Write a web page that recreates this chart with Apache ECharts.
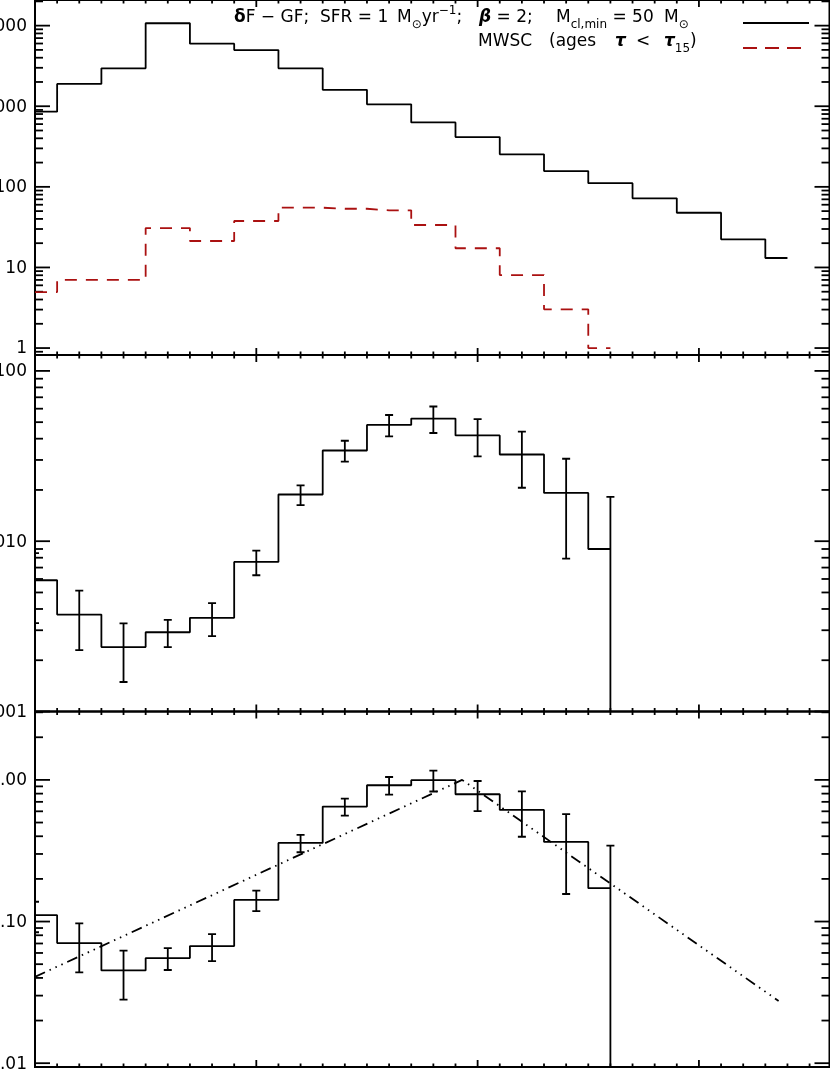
<!DOCTYPE html>
<html>
<head>
<meta charset="utf-8">
<script src="https://cdn.jsdelivr.net/npm/echarts@6/dist/echarts.min.js"></script>
<style>
  html, body { margin: 0; padding: 0; background: #fff; }
  #chart { width: 830px; height: 1069px; }
</style>
</head>
<body>
<div id="chart"></div>
<script>
// bin centres (log age), shared by all three panels
const BIN_X = [6.0, 6.2, 6.4, 6.6, 6.8, 7.0, 7.2, 7.4, 7.6, 7.8, 8.0, 8.2, 8.4, 8.6, 8.8, 9.0, 9.2, 9.4];

// top panel: model counts and MWSC counts
const MODEL_N = [855, 1890, 2950, 10700, 5970, 4980, 2950, 1600, 1056, 630, 415, 253, 157, 111, 72, 47.7, 22.3, 13.1];
const MWSC_N = [4.95, 7.0, 7.0, 30.8, 21.3, 37.7, 55.1, 53.5, 51.1, 33.6, 17.3, 8.05, 3.02, 1.0];

// middle panel: ratio and its error
const RATIO_V = [0.0059, 0.00371, 0.00239, 0.00292, 0.00355, 0.00756, 0.0188, 0.0341, 0.0482, 0.0525, 0.0418, 0.0323, 0.0192, 0.0090];
const RATIO_ERR = [0.0026, 0.00142, 0.0009, 0.00053, 0.00078, 0.00125, 0.0025, 0.0048, 0.0069, 0.0093, 0.0103, 0.0117, 0.0113, 0.0092];

// bottom panel: normalised ratio, error, and the broken power-law fit
const NORM_V = [0.111, 0.0705, 0.0452, 0.0552, 0.0671, 0.142, 0.359, 0.648, 0.917, 0.995, 0.792, 0.614, 0.365, 0.172];
const NORM_ERR = [0.027, 0.0267, 0.0171, 0.0097, 0.0145, 0.0235, 0.0505, 0.0885, 0.131, 0.167, 0.19, 0.217, 0.2085, 0.171];
const FIT_X = [6.0, 7.93, 9.36];
const FIT_Y = [0.0407, 1.0, 0.0275];

// axis ranges
const X_MIN = 6.0, X_MAX = 9.59;
const Y_RANGES = [[0.82, 20800], [0.001, 0.124], [0.0094, 3.04]];
const Y_FMT = [v => String(Math.round(v)), v => v.toFixed(3), v => v.toFixed(2)];

const FONT = 'DejaVu Sans';
const RED = '#aa1111';

function pairs(xs, ys) {
    return ys.map((y, i) => [xs[i], y]);
}

function tickData(yMin, yMax) {
    const out = [];
    for (let i = 60; i <= 95; i++) {
        out.push([0, i / 10, i % 10 === 0 ? 1 : 0]);
    }
    for (let k = Math.floor(Math.log10(yMin)); k <= Math.ceil(Math.log10(yMax)); k++) {
        for (let m = 1; m <= 9; m++) {
            const v = m * Math.pow(10, k);
            if (v >= yMin * 0.9999 && v <= yMax * 1.0001) out.push([1, v, m === 1 ? 1 : 0]);
        }
    }
    return out;
}

function tickSeries(idx) {
    const [yMin, yMax] = Y_RANGES[idx];
    return {
        type: 'custom',
        xAxisIndex: idx,
        yAxisIndex: idx,
        silent: true,
        data: tickData(yMin, yMax),
        renderItem(params, api) {
            const kind = api.value(0), v = api.value(1), major = api.value(2);
            const st = { stroke: '#000', lineWidth: 1.8 };
            if (kind === 1) {
                const a = api.coord([X_MIN, v]);
                const b = api.coord([X_MAX, v]);
                const len = major ? 15 : 8;
                const kids = [
                    { type: 'line', shape: { x1: a[0], y1: a[1], x2: a[0] + len, y2: a[1] }, style: st },
                    { type: 'line', shape: { x1: b[0] - len, y1: b[1], x2: b[0], y2: b[1] }, style: st }
                ];
                if (major) {
                    kids.push({
                        type: 'text', x: a[0] - 8, y: a[1] + 1,
                        style: { text: Y_FMT[idx](v), align: 'right', verticalAlign: 'middle', fontSize: 17, fontFamily: FONT, fill: '#000' }
                    });
                }
                return { type: 'group', children: kids };
            }
            const bot = api.coord([v, yMin]);
            const top = api.coord([v, yMax]);
            const len = major ? 7 : 3.5;
            return {
                type: 'group',
                children: [
                    { type: 'line', shape: { x1: bot[0], y1: bot[1], x2: bot[0], y2: bot[1] - len }, style: st },
                    { type: 'line', shape: { x1: top[0], y1: top[1], x2: top[0], y2: top[1] + len }, style: st }
                ]
            };
        }
    };
}

function errorSeries(idx, vals, errs) {
    const yMin = Y_RANGES[idx][0];
    return {
        type: 'custom',
        xAxisIndex: idx,
        yAxisIndex: idx,
        silent: true,
        clip: true,
        data: vals.map((v, i) => [BIN_X[i], v, errs[i]]),
        renderItem(params, api) {
            const x = api.value(0), v = api.value(1), e = api.value(2);
            const hi = api.coord([x, v + e]);
            const lo = api.coord([x, Math.max(v - e, yMin)]);
            const st = { stroke: '#000', lineWidth: 1.8 };
            const kids = [
                { type: 'line', shape: { x1: hi[0], y1: hi[1], x2: lo[0], y2: lo[1] }, style: st },
                { type: 'line', shape: { x1: hi[0] - 4, y1: hi[1], x2: hi[0] + 4, y2: hi[1] }, style: st }
            ];
            if (v - e > yMin) {
                kids.push({ type: 'line', shape: { x1: lo[0] - 4, y1: lo[1], x2: lo[0] + 4, y2: lo[1] }, style: st });
            }
            return { type: 'group', children: kids };
        }
    };
}

function stepSeries(idx, ys, color, dash) {
    return {
        type: 'line',
        xAxisIndex: idx,
        yAxisIndex: idx,
        step: 'middle',
        showSymbol: false,
        silent: true,
        data: pairs(BIN_X, ys),
        lineStyle: { color: color, width: 1.8, type: dash || 'solid' }
    };
}

// legend text pieces, placed word group by word group
const RICH = {
    n: { fontSize: 17, fontFamily: FONT, lineHeight: 26, fill: '#000' },
    d: { fontSize: 17, fontFamily: FONT, fontWeight: 'bold', lineHeight: 26, fill: '#000' },
    b: { fontSize: 17, fontFamily: FONT, fontWeight: 'bold', fontStyle: 'italic', lineHeight: 26, fill: '#000' },
    sub: { fontSize: 12, fontFamily: FONT, lineHeight: 14, verticalAlign: 'bottom', fill: '#000' },
    sup: { fontSize: 12, fontFamily: FONT, lineHeight: 14, verticalAlign: 'top', fill: '#000' }
};
function label(x, y, text) {
    return { type: 'text', x: x, y: y, style: { text: text, verticalAlign: 'middle', rich: RICH } };
}

const grids = [
    { left: 35, right: 0.5, top: -1, height: 356 },
    { left: 35, right: 0.5, top: 355, height: 356.5 },
    { left: 35, right: 0.5, top: 711.5, height: 355.5 }
].map(g => Object.assign(g, { show: true, borderColor: '#000', borderWidth: 2, backgroundColor: 'transparent' }));

const chart = echarts.init(document.getElementById('chart'));
chart.setOption({
    animation: false,
    backgroundColor: '#fff',
    grid: grids,
    xAxis: grids.map((g, i) => ({
        type: 'value', gridIndex: i, min: X_MIN, max: X_MAX,
        axisLine: { show: false }, axisTick: { show: false }, axisLabel: { show: false }, splitLine: { show: false }
    })),
    yAxis: grids.map((g, i) => ({
        type: 'log', gridIndex: i, min: Y_RANGES[i][0], max: Y_RANGES[i][1],
        axisLine: { show: false }, axisTick: { show: false }, axisLabel: { show: false }, splitLine: { show: false }
    })),
    series: [
        tickSeries(0), tickSeries(1), tickSeries(2),
        stepSeries(0, MODEL_N, '#000'),
        stepSeries(0, MWSC_N, RED, [12, 9]),
        stepSeries(1, RATIO_V, '#000'),
        errorSeries(1, RATIO_V, RATIO_ERR),
        stepSeries(2, NORM_V, '#000'),
        errorSeries(2, NORM_V, NORM_ERR),
        {
            type: 'line',
            xAxisIndex: 2,
            yAxisIndex: 2,
            showSymbol: false,
            silent: true,
            data: pairs(FIT_X, FIT_Y),
            lineStyle: { color: '#000', width: 1.8, type: [11, 5, 1.5, 5, 1.5, 5, 1.5, 5] }
        }
    ],
    graphic: [
        label(234, 18, '{d|δ}{n|F − GF;}'),
        label(320, 18, '{n|SFR = 1}'),
        label(397, 18, '{n|M}{sub|⊙}{n|yr}{sup|−1}{n|;}'),
        label(479, 18, '{b|β}{n| = 2;}'),
        label(556, 18, '{n|M}{sub|cl,min}{n| = 50}'),
        label(664, 18, '{n|M}{sub|⊙}'),
        label(478, 42, '{n|MWSC}'),
        label(549, 42, '{n|(ages}'),
        label(615, 42, '{b|τ}'),
        label(636, 42, '{n|<}'),
        label(664, 42, '{b|τ}{sub|15}{n|)}'),
        { type: 'line', shape: { x1: 743, y1: 23, x2: 809, y2: 23 }, style: { stroke: '#000', lineWidth: 1.8 } },
        { type: 'line', shape: { x1: 743, y1: 48, x2: 803, y2: 48 }, style: { stroke: RED, lineWidth: 1.8, lineDash: [14, 8] } }
    ]
});
</script>
</body>
</html>
